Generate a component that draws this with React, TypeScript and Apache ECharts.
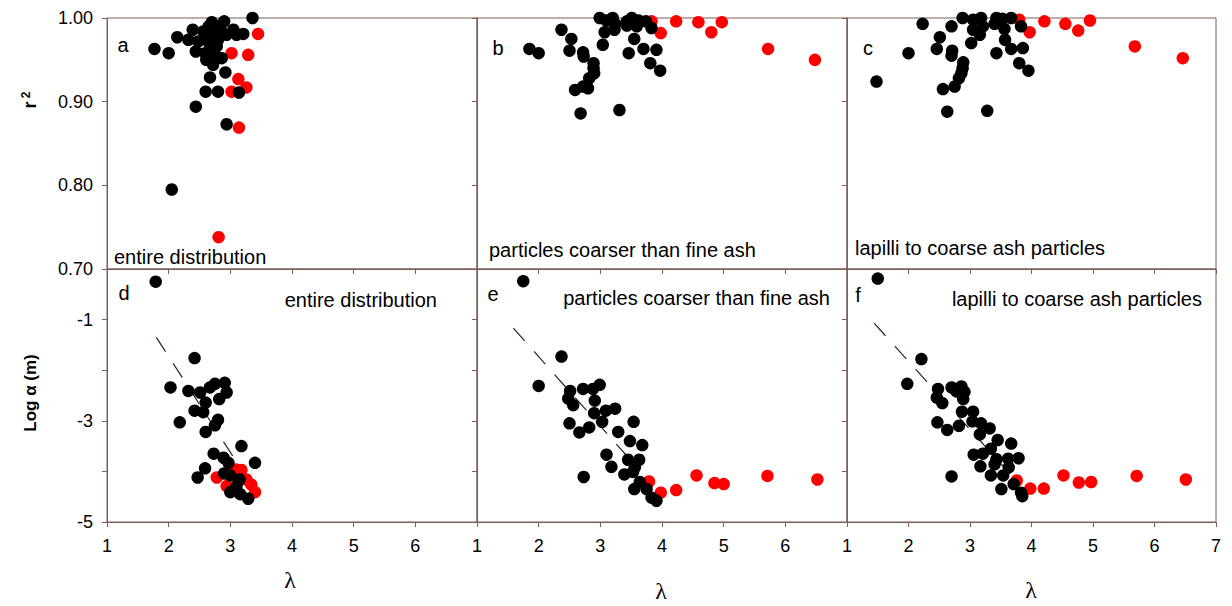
import React, { useEffect, useRef } from "react";
import * as echarts from "echarts";

// ---------- data ----------
const xTickValues = [1, 2, 3, 4, 5, 6, 7];
const r2Range = [0.7, 1.0];
const logRange = [-5, 0];
const logLabelValues = [-1, -3, -5];

const aBlack: number[][] = [
  [1.77, 0.963], [2.0, 0.958], [2.14, 0.977], [2.39, 0.986], [2.32, 0.974], [2.44, 0.96],
  [2.56, 0.984], [2.7, 0.995], [2.9, 0.996], [2.8, 0.99], [2.72, 0.982], [2.61, 0.974],
  [2.48, 0.972], [2.67, 0.968], [2.8, 0.974], [2.94, 0.98], [3.05, 0.986], [3.21, 0.981],
  [3.1, 0.98], [2.59, 0.958], [2.75, 0.956], [2.86, 0.952], [2.61, 0.95], [2.72, 0.944],
  [2.67, 0.929], [2.92, 0.935], [2.6, 0.912], [2.8, 0.912], [3.14, 0.911], [2.44, 0.894],
  [2.94, 0.873], [2.05, 0.795], [3.36, 1.0], [2.78, 0.966], [2.85, 0.985], [2.65, 0.99],
];
const aRed: number[][] = [
  [3.45, 0.981], [3.02, 0.958], [3.29, 0.956], [3.13, 0.927], [3.26, 0.917], [3.02, 0.912],
  [3.14, 0.869], [2.81, 0.738],
];
const bBlack: number[][] = [
  [1.85, 0.963], [2.0, 0.958], [2.37, 0.986], [2.53, 0.975], [2.5, 0.961], [2.72, 0.959],
  [2.73, 0.954], [2.89, 0.946], [2.89, 0.94], [2.9, 0.934], [2.82, 0.928], [2.72, 0.918],
  [2.59, 0.914], [2.8, 0.916], [2.68, 0.886], [3.31, 0.89], [2.99, 1.0], [3.2, 1.0],
  [3.1, 0.997], [3.24, 0.993], [3.07, 0.983], [3.23, 0.986], [3.04, 0.968], [3.43, 0.996],
  [3.51, 1.0], [3.62, 0.997], [3.43, 0.991], [3.59, 0.99], [3.74, 0.996], [3.55, 0.975],
  [3.46, 0.958], [3.7, 0.963], [3.83, 0.988], [3.91, 0.962], [3.81, 0.946], [3.97, 0.937],
];
const bRed: number[][] = [
  [3.83, 0.996], [3.98, 0.982], [4.23, 0.996], [4.59, 0.995], [4.8, 0.983], [4.97, 0.995],
  [5.72, 0.963], [6.48, 0.95],
];
const cBlack: number[][] = [
  [1.48, 0.924], [2.0, 0.958], [2.23, 0.993], [2.51, 0.977], [2.46, 0.963], [2.71, 0.961],
  [2.7, 0.955], [2.89, 0.947], [2.88, 0.94], [2.86, 0.934], [2.82, 0.928], [2.75, 0.918],
  [2.56, 0.915], [2.63, 0.888], [3.28, 0.889], [2.7, 0.99], [2.88, 1.0], [3.05, 0.998],
  [3.18, 1.0], [3.05, 0.986], [3.21, 0.99], [3.16, 0.98], [3.02, 0.97], [3.43, 1.0],
  [3.53, 0.999], [3.67, 1.0], [3.4, 0.993], [3.56, 0.987], [3.57, 0.974], [3.43, 0.958],
  [3.67, 0.963], [3.83, 0.99], [3.86, 0.964], [3.8, 0.946], [3.95, 0.937],
];
const cRed: number[][] = [
  [3.8, 0.998], [3.97, 0.983], [4.21, 0.996], [4.55, 0.993], [4.76, 0.985], [4.95, 0.997],
  [5.68, 0.966], [6.46, 0.952],
];
const dBlack: number[][] = [
  [1.79, -0.25], [2.42, -1.76], [2.03, -2.34], [2.32, -2.41], [2.51, -2.44], [2.67, -2.34],
  [2.75, -2.27], [2.91, -2.25], [2.94, -2.44], [2.82, -2.57], [2.6, -2.64], [2.42, -2.8],
  [2.56, -2.83], [2.18, -3.03], [2.8, -2.98], [2.75, -3.09], [2.6, -3.22], [3.18, -3.5],
  [3.4, -3.83], [2.73, -3.65], [2.89, -3.73], [2.97, -3.83], [2.59, -3.94], [2.47, -4.12],
  [2.9, -4.04], [3.0, -4.08], [3.15, -4.16], [3.1, -4.29], [3.0, -4.41], [3.16, -4.45],
  [3.29, -4.54],
];
const dRed: number[][] = [
  [2.78, -4.12], [2.94, -4.29], [3.09, -3.96], [3.18, -3.97], [3.26, -4.16], [3.34, -4.26],
  [3.4, -4.41],
];
const eBlack: number[][] = [
  [1.75, -0.24], [2.37, -1.73], [2.0, -2.31], [2.51, -2.41], [2.72, -2.37], [2.88, -2.37],
  [2.99, -2.29], [2.48, -2.56], [2.56, -2.69], [2.91, -2.6], [2.9, -2.85], [3.09, -2.8],
  [3.24, -2.76], [3.03, -3.02], [2.5, -3.05], [2.66, -3.23], [2.82, -3.13], [3.29, -3.22],
  [3.54, -3.02], [3.48, -3.4], [3.68, -3.48], [3.1, -3.67], [3.18, -3.91], [3.45, -3.77],
  [3.63, -3.77], [3.56, -3.92], [3.39, -4.06], [3.53, -4.01], [2.73, -4.11], [3.64, -4.21],
  [3.55, -4.35], [3.75, -4.35], [3.83, -4.52], [3.91, -4.58],
];
const eRed: number[][] = [
  [3.79, -4.2], [3.98, -4.42], [4.23, -4.37], [4.56, -4.08], [4.85, -4.23], [5.0, -4.25],
  [5.71, -4.09], [6.52, -4.16],
];
const fBlack: number[][] = [
  [1.5, -0.19], [2.21, -1.78], [1.98, -2.27], [2.48, -2.37], [2.7, -2.34], [2.86, -2.32],
  [2.91, -2.43], [2.78, -2.42], [2.46, -2.54], [2.55, -2.65], [2.89, -2.57], [2.87, -2.82],
  [3.05, -2.82], [2.47, -3.03], [2.63, -3.18], [2.82, -3.1], [3.04, -3.01], [3.18, -3.05],
  [3.32, -3.15], [3.16, -3.27], [3.45, -3.38], [3.67, -3.45], [3.34, -3.55], [3.06, -3.67],
  [3.21, -3.65], [3.43, -3.76], [3.62, -3.75], [3.79, -3.74], [3.17, -3.9], [3.4, -3.86],
  [3.63, -3.92], [3.34, -4.08], [3.54, -4.08], [2.7, -4.1], [3.71, -4.25], [3.51, -4.35],
  [3.83, -4.42], [3.85, -4.49],
];
const fRed: number[][] = [
  [3.76, -4.18], [3.98, -4.34], [4.2, -4.34], [4.52, -4.08], [4.77, -4.22], [4.97, -4.21],
  [5.71, -4.09], [6.51, -4.16],
];
const dFit: number[][] = [[1.8, -1.35], [3.38, -4.34]];
const eFit: number[][] = [[1.59, -1.17], [3.53, -3.83]];
const fFit: number[][] = [[1.44, -1.07], [3.8, -4.25]];

const panelLetters = ["a", "b", "c", "d", "e", "f"];
const captions = [
  "entire distribution",
  "particles coarser than fine ash",
  "lapilli to coarse ash particles",
  "entire distribution",
  "particles coarser than fine ash",
  "lapilli to coarse ash particles",
];

// ---------- layout / style ----------
const AXIS = "#7d5f57";
const FONT = "Liberation Sans, Arial, sans-serif";
const grids = [
  { left: 107, top: 18, width: 370, height: 251 },
  { left: 477, top: 18, width: 370, height: 251 },
  { left: 847, top: 18, width: 369, height: 251 },
  { left: 107, top: 269, width: 370, height: 253 },
  { left: 477, top: 269, width: 370, height: 253 },
  { left: 847, top: 269, width: 369, height: 253 },
];
const letterPos = [
  [123, 45], [498, 48], [868, 48], [124, 293], [493, 294], [858, 295],
];
const captionPos = [
  [114, 257, "left"], [489, 250, "left"], [855, 248, "left"],
  [437, 300, "right"], [830, 298, "right"], [1202, 299, "right"],
];
const lambdaPos = [[290, 580], [661, 591], [1031, 590]];

export default function App() {
  const ref = useRef<HTMLDivElement>(null);
  useEffect(() => {
    document.body.style.margin = "0";
    if (!ref.current) return;
    const chart = echarts.init(ref.current, undefined, { renderer: "svg" });
    const blacks = [aBlack, bBlack, cBlack, dBlack, eBlack, fBlack];
    const reds = [aRed, bRed, cRed, dRed, eRed, fRed];
    const fits = [null, null, null, dFit, eFit, fFit];

    const xAxes = grids.map((_, i) => ({
      type: "value",
      gridIndex: i,
      min: xTickValues[0],
      max: xTickValues[xTickValues.length - 1],
      interval: 1,
      axisLine: { show: true, onZero: false, lineStyle: { color: AXIS, width: 1 } },
      axisTick: { show: true, length: 5, lineStyle: { color: AXIS } },
      splitLine: { show: false },
      axisLabel: {
        show: i >= 3,
        margin: 15,
        color: "#000",
        fontSize: 18,
        fontFamily: FONT,
        formatter: (v: number) => (i < 5 && v === 7 ? "" : String(v)),
      },
    }));
    const yAxes = grids.map((_, i) => {
      const top = i < 3;
      return {
        type: "value",
        gridIndex: i,
        min: top ? r2Range[0] : logRange[0],
        max: top ? r2Range[1] : logRange[1],
        interval: top ? 0.1 : 1,
        axisLine: { show: true, onZero: false, lineStyle: { color: AXIS, width: 1 } },
        axisTick: { show: true, length: 5, lineStyle: { color: AXIS } },
        splitLine: { show: false },
        axisLabel: {
          show: i === 0 || i === 3,
          margin: 14,
          color: "#000",
          fontSize: 18,
          fontFamily: FONT,
          formatter: (v: number) =>
            top
              ? v.toFixed(2)
              : logLabelValues.includes(Math.round(v))
              ? String(Math.round(v))
              : "",
        },
      };
    });

    const series: any[] = [];
    grids.forEach((_, i) => {
      const fit = fits[i];
      if (fit) {
        series.push({
          type: "line",
          xAxisIndex: i,
          yAxisIndex: i,
          data: fit,
          showSymbol: false,
          symbol: "none",
          lineStyle: { color: "#3b1e1e", width: 1.2, type: [17, 14] },
          z: 1,
        });
      }
      series.push({
        type: "scatter",
        xAxisIndex: i,
        yAxisIndex: i,
        data: reds[i],
        symbolSize: 12.5,
        itemStyle: { color: "#ff0000", opacity: 1 },
        clip: false,
        z: 2,
      });
      series.push({
        type: "scatter",
        xAxisIndex: i,
        yAxisIndex: i,
        data: blacks[i],
        symbolSize: 12.5,
        itemStyle: { color: "#000000", opacity: 1 },
        clip: false,
        z: 3,
      });
    });

    const graphic: any[] = [];
    panelLetters.forEach((t, i) => {
      graphic.push({
        type: "text",
        x: letterPos[i][0],
        y: letterPos[i][1],
        style: { text: t, fontSize: 20, fontFamily: FONT, fill: "#000", align: "center", verticalAlign: "middle" },
      });
    });
    captions.forEach((t, i) => {
      const p = captionPos[i];
      graphic.push({
        type: "text",
        x: p[0],
        y: p[1],
        style: { text: t, fontSize: 20, fontFamily: FONT, fill: "#000", align: p[2], verticalAlign: "middle" },
      });
    });
    lambdaPos.forEach((p) => {
      graphic.push({
        type: "text",
        x: p[0],
        y: p[1],
        style: { text: "λ", fontSize: 24, fontFamily: "Liberation Serif, serif", fill: "#000", align: "center", verticalAlign: "middle" },
      });
    });
    graphic.push({
      type: "text",
      x: 30,
      y: 100,
      rotation: Math.PI / 2,
      style: {
        text: "{r|r} {s|2}",
        rich: {
          r: { fontSize: 18, fontWeight: "bold", fontFamily: FONT, fill: "#000" },
          s: { fontSize: 12, fontWeight: "bold", fontFamily: FONT, fill: "#000", padding: [0, 0, 8, 0] },
        },
        align: "center",
        verticalAlign: "middle",
      },
    });
    graphic.push({
      type: "text",
      x: 30,
      y: 393,
      rotation: Math.PI / 2,
      style: {
        text: "Log α (m)",
        fontSize: 17,
        fontWeight: "bold",
        fontFamily: FONT,
        fill: "#000",
        align: "center",
        verticalAlign: "middle",
      },
    });

    chart.setOption({
      animation: false,
      backgroundColor: "#ffffff",
      grid: grids.map((g) => ({ ...g, show: true, borderColor: AXIS, borderWidth: 1, backgroundColor: "transparent" })),
      xAxis: xAxes,
      yAxis: yAxes,
      series,
      graphic,
    });
    return () => chart.dispose();
  }, []);
  return <div ref={ref} style={{ position: "absolute", left: 0, top: 0, width: 1232, height: 606 }} />;
}
